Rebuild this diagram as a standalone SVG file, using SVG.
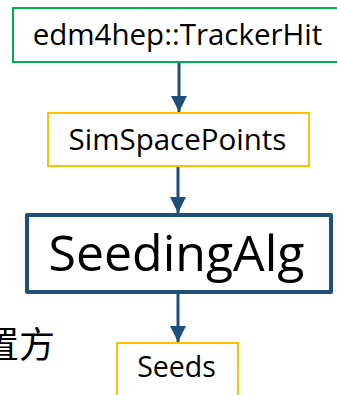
<svg xmlns="http://www.w3.org/2000/svg" width="337" height="395" viewBox="0 0 337 395">
<style>
  .lbl { font-family: "Open Sans", "Noto Sans", "Liberation Sans", sans-serif; fill: #000; text-anchor: middle; }
  .green { fill: #fff; stroke: #00B050; stroke-width: 2; }
  .yellow { fill: #fff; stroke: #FFC000; stroke-width: 2; }
  .alg { fill: #fff; stroke: #1F4E79; stroke-width: 4; stroke-linejoin: round; }
  .conn { stroke: #1F4E79; stroke-width: 3; fill: none; }
</style>
<defs>
  <marker id="arr" markerUnits="userSpaceOnUse" markerWidth="16" markerHeight="16" refX="16" refY="8" orient="auto">
    <path d="M0,0 L16,8 L0,16 Z" fill="#1F4E79"/>
  </marker>
</defs>
<rect width="337" height="395" fill="#fff"/>
<text x="55" y="358" font-family="'Noto Sans CJK SC', sans-serif" font-size="36" text-anchor="end" fill="#000">置方</text>
<g id="connectors">
  <line class="conn" x1="179" y1="63" x2="179" y2="112" marker-end="url(#arr)"/>
  <line class="conn" x1="178" y1="167" x2="178" y2="213" marker-end="url(#arr)"/>
  <line class="conn" x1="178" y1="294" x2="178" y2="342" marker-end="url(#arr)"/>
</g>
<g id="trackerhit">
  <rect class="green" x="13" y="8" width="326" height="54"/>
  <text class="lbl" x="177.5" y="45" font-size="29.5">edm4hep::TrackerHit</text>
</g>
<g id="simspacepoints">
  <rect class="yellow" x="48" y="113" width="261" height="53"/>
  <text class="lbl" x="177.5" y="150" font-size="29.5">SimSpacePoints</text>
</g>
<g id="seedingalg">
  <rect class="alg" x="27" y="215" width="304" height="77"/>
  <text class="lbl" x="176.5" y="271" font-size="50">SeedingAlg</text>
</g>
<g id="seeds">
  <rect class="yellow" x="117" y="343" width="121" height="60"/>
  <text class="lbl" x="176.5" y="377" font-size="28.5">Seeds</text>
</g>
</svg>
